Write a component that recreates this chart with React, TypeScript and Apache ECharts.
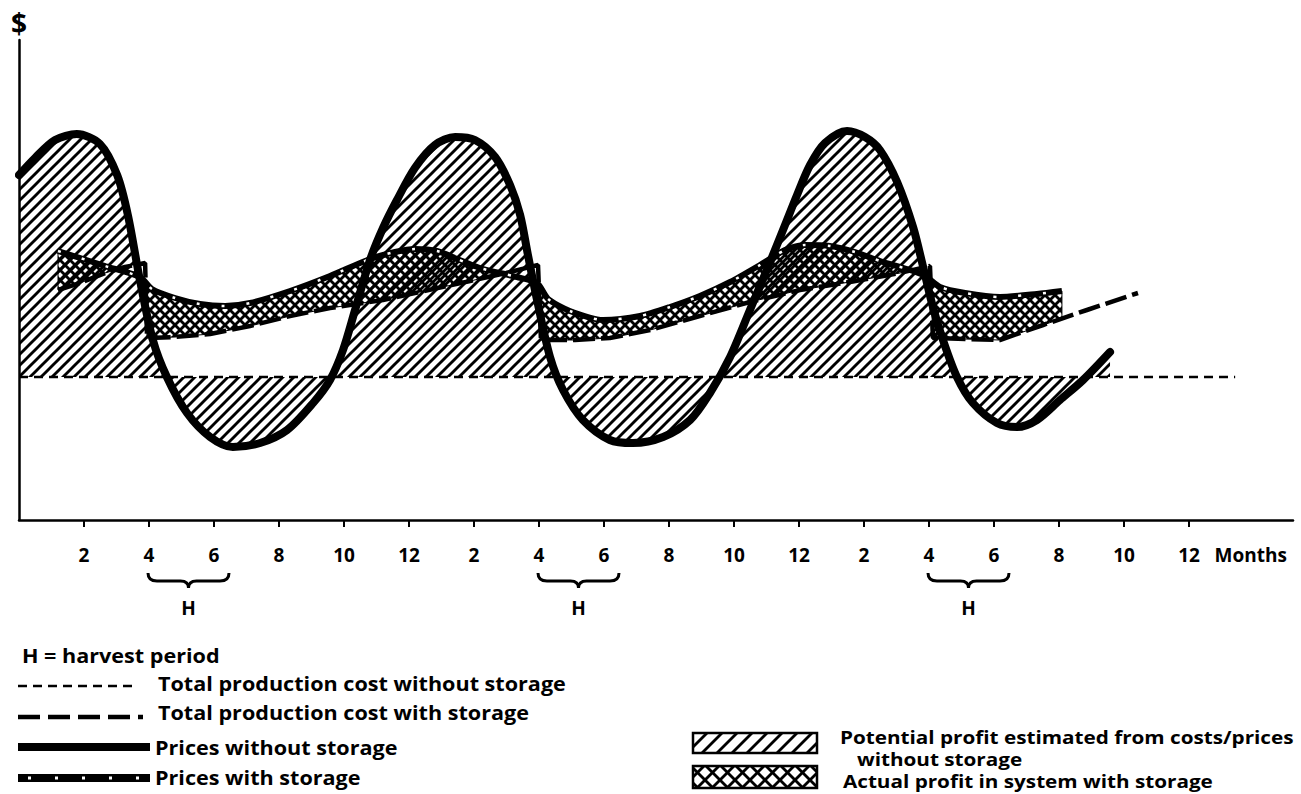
import React, { useEffect, useRef } from "react";
import * as echarts from "echarts";

const FONT = "'Open Sans', Lato, 'DejaVu Sans', sans-serif";

// ---- axis ticks (months) ----
const tickMonths = [2, 4, 6, 8, 10, 12, 14, 16, 18, 20, 22, 24, 26, 28, 30, 32, 34, 36];
const tickLabels = ["2", "4", "6", "8", "10", "12", "2", "4", "6", "8", "10", "12", "2", "4", "6", "8", "10", "12"];
const unitPos = 37.9;
const unitLabel = "Months";

// ---- prices without storage ----
const priceNoStoreT = [0, 0.49, 1.11, 1.78, 2.49, 3.02, 3.35, 3.72, 4.12, 4.55, 5.17, 5.88, 6.58, 7.42, 8.25, 9.05, 9.57, 9.97, 10.34, 10.8, 11.2, 11.63, 12.18, 12.8, 13.42, 14.03, 14.65, 15.11, 15.42, 15.66, 15.94, 16.34, 16.74, 17.35, 18.18, 18.89, 19.82, 20.65, 21.26, 21.88, 22.49, 23.11, 23.57, 23.94, 24.34, 24.8, 25.48, 26.03, 26.49, 27.02, 27.51, 27.82, 28.12, 28.43, 28.86, 29.35, 30.09, 30.71, 31.32, 32.03, 32.74, 33.57];
const priceNoStoreV = [345, 362, 380, 386, 376, 345, 305, 240, 180, 143, 107, 83, 73, 77, 90, 117, 140, 170, 210, 260, 292, 320, 352, 375, 383, 380, 363, 335, 305, 265, 220, 163, 130, 100, 80, 77, 83, 100, 127, 163, 210, 258, 295, 325, 355, 377, 389, 383, 370, 338, 293, 253, 213, 180, 143, 117, 97, 93, 100, 120, 140, 168];

// ---- total production cost without storage ----
const costNoStoreT = [0, 37.42];
const costNoStoreV = [143, 143];

// ---- prices with storage ----
const priceStoreT = [1.2, 1.88, 2.65, 3.72, 4.09, 4.8, 5.57, 6.34, 7.11, 8.34, 9.57, 10.8, 11.57, 12.18, 12.86, 13.48, 14.18, 15.32, 15.94, 16.28, 16.95, 17.97, 19.11, 20.03, 20.95, 21.88, 22.8, 23.57, 24.18, 24.95, 25.72, 26.49, 27.42, 27.88, 28.34, 29.11, 30.18, 31.32, 32.09];
const priceStoreV = [269, 262, 254, 243, 231, 222, 216, 214, 217, 229, 244, 261, 268, 271, 269, 261, 252, 243, 237, 221, 209, 200, 204, 213, 224, 238, 255, 270, 275, 274, 268, 259, 250, 244, 233, 227, 223, 226, 229];

// ---- total production cost with storage ----
const costStoreT = [1.2, 1.88, 2.65, 3.26, 3.88, 3.94, 4.8, 5.88, 7.11, 8.34, 9.57, 11.2, 12.34, 13.88, 15.11, 15.97, 16.06, 17.11, 18.18, 19.42, 20.95, 22.49, 24.03, 25.57, 27.11, 28.03, 28.12, 29.11, 30.18, 31.51, 32.86, 34.43];
const costStoreV = [230, 237, 247, 253, 257, 182, 183, 186, 194, 204, 212, 220, 228, 239, 248, 255, 180, 180, 182, 190, 204, 218, 230, 238, 247, 254, 182, 181, 180, 195, 210, 227];

// ---- harvest periods ----
const harvestStart = [4, 16, 28];
const harvestEnd = [6, 18, 30];

const zip = (t: number[], v: number[]) => t.map((x, i) => [x, v[i]]);

function interp(ts: number[], vs: number[], t: number): number {
  for (let i = 0; i < ts.length - 1; i++) {
    if (t >= ts[i] && t <= ts[i + 1]) {
      const f = (t - ts[i]) / (ts[i + 1] - ts[i]);
      return vs[i] + f * (vs[i + 1] - vs[i]);
    }
  }
  return NaN;
}

type Pt = { t: number; top: number; bot: number };
function profitSegments(): Pt[][] {
  const t0 = Math.max(priceStoreT[0], costStoreT[0]);
  const t1 = Math.min(priceStoreT[priceStoreT.length - 1], costStoreT[costStoreT.length - 1]);
  const ts = Array.from(new Set([...priceStoreT, ...costStoreT].filter((t) => t >= t0 && t <= t1))).sort((a, b) => a - b);
  const segs: Pt[][] = [];
  let cur: Pt[] | null = null;
  let prev: { t: number; d: number } | null = null;
  for (const t of ts) {
    const p = interp(priceStoreT, priceStoreV, t);
    const c = interp(costStoreT, costStoreV, t);
    const d = p - c;
    if (prev && (prev.d > 0) !== (d > 0)) {
      const tc = prev.t + ((t - prev.t) * prev.d) / (prev.d - d);
      const vc = interp(priceStoreT, priceStoreV, tc);
      if (cur) {
        cur.push({ t: tc, top: vc, bot: vc });
        segs.push(cur);
        cur = null;
      } else {
        cur = [{ t: tc, top: vc, bot: vc }];
      }
    }
    if (d > 0) {
      if (!cur) cur = [];
      cur.push({ t, top: p, bot: c });
    }
    prev = { t, d };
  }
  if (cur) segs.push(cur);
  return segs;
}

function makePattern(size: number, lw: number, cross: boolean, bg: string | null) {
  const c = document.createElement("canvas");
  c.width = size;
  c.height = size;
  const g = c.getContext("2d")!;
  if (bg) {
    g.fillStyle = bg;
    g.fillRect(0, 0, size, size);
  }
  g.strokeStyle = "#000";
  g.lineWidth = lw;
  const seg = (a: number, b: number, cc: number, d: number) => {
    g.beginPath();
    g.moveTo(a, b);
    g.lineTo(cc, d);
    g.stroke();
  };
  for (const k of [0, 1, 2]) seg(-3, k * size + 3, k * size + 3, -3);
  if (cross) {
    for (const k of [-1, 0, 1]) seg(-3, -3 - k * size, size + 3, size + 3 - k * size);
  }
  return { image: c, repeat: "repeat", imageWidth: size, imageHeight: size } as any;
}

export default function App() {
  const ref = useRef<HTMLDivElement>(null);
  useEffect(() => {
    if (!ref.current) return;
    const chart = echarts.init(ref.current, undefined, { renderer: "svg" });
    const hatch = makePattern(11, 2.9, false, null);
    const cross = makePattern(10, 2.8, true, "#fff");
    const legendHatch = makePattern(15, 2.8, false, "#fff");
    const legendCross = makePattern(15, 2.8, true, "#fff");
    const segs = profitSegments();
    const textStyle = (text: string, x: number, y: number, size = 20, sx = 1.08) => ({
      type: "text",
      x,
      y,
      scaleX: sx,
      style: {
        text,
        font: `bold ${size}px ${FONT}`,
        fill: "#000",
        textAlign: "left",
        textVerticalAlign: "middle",
        align: "left",
        verticalAlign: "middle",
      },
    });

    const option: any = {
      animation: false,
      backgroundColor: "#fff",
      grid: { left: 19, right: 8, top: 40, bottom: 274, containLabel: false, outerBoundsMode: "none" },
      xAxis: {
        type: "value",
        min: 0,
        max: 39.2,
        axisLine: { show: true, onZero: false, lineStyle: { color: "#000", width: 2.5 } },
        axisTick: { show: true, length: 7, customValues: tickMonths, lineStyle: { color: "#000", width: 2 } },
        axisLabel: {
          show: true,
          margin: 25,
          customValues: [...tickMonths, unitPos],
          formatter: (v: number) => {
            if (Math.abs(v - unitPos) < 1e-6) return unitLabel;
            const i = tickMonths.findIndex((m) => Math.abs(m - v) < 1e-6);
            return i >= 0 ? tickLabels[i] : "";
          },
          color: "#000",
          fontFamily: FONT,
          fontWeight: "bold",
          fontSize: 19,
        },
        splitLine: { show: false },
      },
      yAxis: {
        type: "value",
        min: 0,
        max: 480,
        name: "$",
        nameLocation: "end",
        nameGap: 3,
        nameTextStyle: { fontSize: 28, fontWeight: "bold", fontFamily: FONT, color: "#000" },
        axisLine: { show: true, onZero: false, lineStyle: { color: "#000", width: 2.5 } },
        axisTick: { show: false },
        axisLabel: { show: false },
        splitLine: { show: false },
      },
      series: [
        {
          name: "Potential profit",
          type: "line",
          data: zip(priceNoStoreT, priceNoStoreV),
          smooth: 0.3,
          symbol: "none",
          silent: true,
          lineStyle: { width: 0, opacity: 0 },
          areaStyle: { origin: costNoStoreV[0], color: hatch, opacity: 1 },
        },
        {
          name: "Actual profit",
          type: "custom",
          silent: true,
          clip: false,
          data: [[0, 0]],
          renderItem: (_p: any, api: any) => ({
            type: "group",
            children: segs.map((s) => ({
              type: "polygon",
              shape: {
                points: [
                  ...s.map((q) => api.coord([q.t, q.top])),
                  ...s.slice().reverse().map((q) => api.coord([q.t, q.bot])),
                ],
              },
              style: { fill: cross, stroke: "#000", lineWidth: 1 },
            })),
          }),
        },
        {
          name: "Total production cost without storage",
          type: "line",
          data: zip(costNoStoreT, costNoStoreV),
          symbol: "none",
          silent: true,
          lineStyle: { color: "#000", width: 2.5, type: [9, 6], cap: "butt" },
        },
        {
          name: "Total production cost with storage",
          type: "line",
          data: zip(costStoreT, costStoreV),
          symbol: "none",
          silent: true,
          lineStyle: { color: "#000", width: 4.5, type: [22, 6], cap: "butt" },
        },
        {
          name: "Prices with storage",
          type: "line",
          data: zip(priceStoreT, priceStoreV),
          smooth: 0.25,
          symbol: "none",
          silent: true,
          lineStyle: { color: "#000", width: 6 },
        },
        {
          name: "Prices with storage (marks)",
          type: "line",
          data: zip(priceStoreT, priceStoreV),
          smooth: 0.25,
          symbol: "none",
          silent: true,
          lineStyle: { color: "#fff", width: 2.5, type: [3, 22], cap: "butt" },
        },
        {
          name: "Prices without storage",
          type: "line",
          data: zip(priceNoStoreT, priceNoStoreV),
          smooth: 0.3,
          symbol: "none",
          silent: true,
          lineStyle: { color: "#000", width: 8, cap: "round", join: "round" },
        },
        {
          name: "Harvest",
          type: "custom",
          silent: true,
          clip: false,
          data: harvestStart.map((s, i) => [s, harvestEnd[i]]),
          renderItem: (_p: any, api: any) => {
            const a = api.coord([api.value(0), 0]);
            const b = api.coord([api.value(1), 0]);
            const x1 = a[0] - 1;
            const x2 = b[0] + 15;
            const y0 = a[1] + 53;
            const xm = (x1 + x2) / 2;
            const d = `M${x1} ${y0} Q${x1} ${y0 + 8} ${x1 + 9} ${y0 + 8} L${xm - 8} ${y0 + 8} Q${xm} ${y0 + 8} ${xm} ${y0 + 15} Q${xm} ${y0 + 8} ${xm + 8} ${y0 + 8} L${x2 - 9} ${y0 + 8} Q${x2} ${y0 + 8} ${x2} ${y0}`;
            return {
              type: "group",
              children: [
                { type: "path", shape: { pathData: d }, style: { fill: "none", stroke: "#000", lineWidth: 3 } },
                {
                  type: "text",
                  style: {
                    text: "H",
                    x: xm,
                    y: a[1] + 88,
                    font: `bold 19px ${FONT}`,
                    fill: "#000",
                    textAlign: "center",
                    textVerticalAlign: "middle",
                    align: "center",
                    verticalAlign: "middle",
                  },
                },
              ],
            };
          },
        },
      ],
      graphic: [
        textStyle("H = harvest period", 22, 655),
        { type: "line", shape: { x1: 18, y1: 686, x2: 137, y2: 686 }, style: { stroke: "#000", lineWidth: 2.5, lineDash: [9, 6] } },
        textStyle("Total production cost without storage", 158, 683),
        { type: "line", shape: { x1: 18, y1: 717, x2: 143, y2: 717 }, style: { stroke: "#000", lineWidth: 4.5, lineDash: [22, 8] } },
        textStyle("Total production cost with storage", 158, 712),
        { type: "line", shape: { x1: 18, y1: 747, x2: 150, y2: 747 }, style: { stroke: "#000", lineWidth: 8 } },
        textStyle("Prices without storage", 155, 747),
        { type: "line", shape: { x1: 18, y1: 778, x2: 150, y2: 778 }, style: { stroke: "#000", lineWidth: 8 } },
        { type: "line", shape: { x1: 18, y1: 778, x2: 150, y2: 778 }, style: { stroke: "#fff", lineWidth: 3, lineDash: [3, 24], lineDashOffset: -10 } },
        textStyle("Prices with storage", 155, 777),
        { type: "rect", shape: { x: 693, y: 733, width: 124, height: 20 }, style: { fill: legendHatch, stroke: "#000", lineWidth: 2.5 } },
        textStyle("Potential profit estimated from costs/prices", 840, 737, 18, 1.15),
        textStyle("without storage", 857, 759, 18, 1.15),
        { type: "rect", shape: { x: 693, y: 766, width: 124, height: 22 }, style: { fill: legendCross, stroke: "#000", lineWidth: 2.5 } },
        textStyle("Actual profit in system with storage", 843, 781, 18, 1.15),
      ],
    };
    chart.setOption(option);
    return () => chart.dispose();
  }, []);
  return (
    <div
      ref={ref}
      style={{ position: "fixed", left: 0, top: 0, width: 1301, height: 794, background: "#fff" }}
    />
  );
}
